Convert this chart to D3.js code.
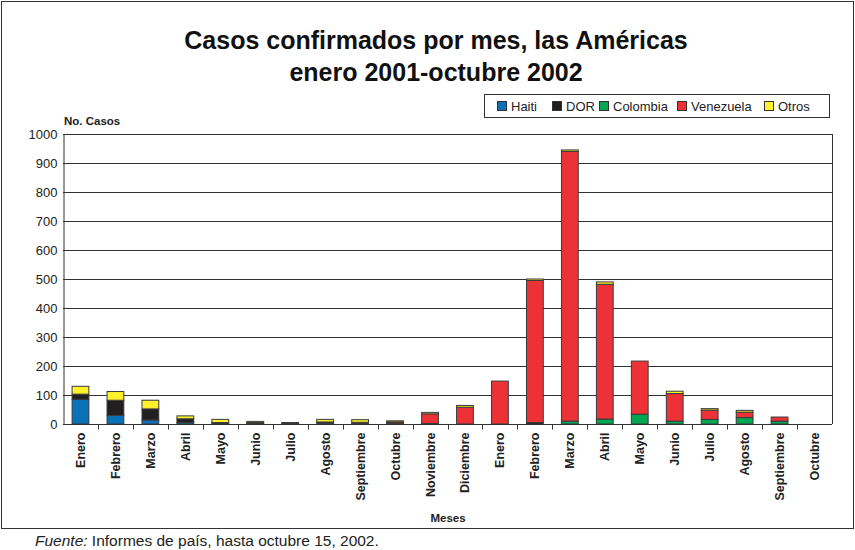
<!DOCTYPE html>
<html>
<head>
<meta charset="utf-8">
<script src="https://cdn.jsdelivr.net/npm/d3@7"></script>
<style>
  body { margin: 0; background: #fff; }
  svg { display: block; font-family: "Liberation Sans", Arial, sans-serif; }
</style>
</head>
<body>
<svg id="chart" width="855" height="550"></svg>
<script>
const months = ["Enero","Febrero","Marzo","Abril","Mayo","Junio","Julio","Agosto","Septiembre","Octubre","Noviembre","Diciembre",
                "Enero","Febrero","Marzo","Abril","Mayo","Junio","Julio","Agosto","Septiembre","Octubre"];
const seriesNames = ["Haiti","DOR","Colombia","Venezuela","Otros"];
const seriesColors = ["#0a70b8","#231f20","#00a651","#ed3237","#fff22d"];
const haiti     = [85,30,14,5,1,2,3,4,0,0,0,0, 0,0,0,0,0,0,0,0,0,0];
const dor       = [18,52,38,13,4,3,2,3,3,3,2,0, 0,5,0,0,0,0,0,0,0,0];
const colombia  = [0,0,0,0,0,0,0,0,0,0,0,0, 0,0,10,17,34,10,16,22,10,0];
const venezuela = [0,0,0,0,0,0,0,0,3,4,33,58, 148,490,930,465,183,95,32,19,14,0];
const otros     = [27,30,30,10,11,4,0,9,9,4,5,6, 0,5,5,8,0,8,5,6,0,0];
const yTicks = [0,100,200,300,400,500,600,700,800,900,1000];

const svg = d3.select("#chart");
const W = 855, H = 550;
const m = {left: 63, right: 832, top: 134, bottom: 424};

// outer frame
svg.append("rect").attr("x",1.5).attr("y",1.5).attr("width",W-3).attr("height",527)
  .attr("fill","none").attr("stroke","#333").attr("stroke-width",1);

// title
svg.append("text").attr("x",436).attr("y",49).attr("text-anchor","middle")
  .attr("font-size",25).attr("font-weight","bold").attr("fill","#111")
  .text("Casos confirmados por mes, las Américas");
svg.append("text").attr("x",436).attr("y",81).attr("text-anchor","middle")
  .attr("font-size",25).attr("font-weight","bold").attr("fill","#111")
  .text("enero 2001-octubre 2002");

const table = months.map((mo,i) => ({i, month: mo, Haiti: haiti[i], DOR: dor[i], Colombia: colombia[i], Venezuela: venezuela[i], Otros: otros[i]}));
const stacked = d3.stack().keys(seriesNames)(table);

const x = d3.scaleBand().domain(d3.range(months.length)).range([m.left, m.right]).paddingInner(0.52).paddingOuter(0.26);
const xb = d3.scaleBand().domain(d3.range(months.length)).range([m.left, m.right]);
const y = d3.scaleLinear().domain([0,1000]).range([m.bottom, m.top]);

// gridlines
svg.append("g").selectAll("line").data(yTicks.filter(d=>d>0)).join("line")
  .attr("x1",m.left).attr("x2",m.right)
  .attr("y1",d=>Math.round(y(d))+0.5).attr("y2",d=>Math.round(y(d))+0.5)
  .attr("stroke","#333").attr("stroke-width",1);
// right border
svg.append("line").attr("x1",m.right+0.5).attr("x2",m.right+0.5).attr("y1",m.top).attr("y2",m.bottom)
  .attr("stroke","#333");

// y axis
const yAxis = svg.append("g").attr("transform",`translate(${m.left+0.5},0)`)
  .call(d3.axisLeft(y).tickValues(yTicks).tickFormat(d3.format("d")).tickSize(0).tickPadding(6));
yAxis.select(".domain").attr("stroke","#333");
yAxis.selectAll("text").attr("font-size",13).attr("fill","#222").attr("font-family","Liberation Sans, Arial, sans-serif");

svg.append("text").attr("x",m.left+1).attr("y",125).attr("font-size",11.5).attr("font-weight","bold").attr("fill","#222").text("No. Casos");

// bars
svg.append("g").selectAll("g").data(stacked).join("g")
  .attr("fill",(d,k)=>seriesColors[k])
  .selectAll("rect").data(d=>d.filter(s=>s[1]-s[0]>0)).join("rect")
  .attr("x",d=>x(d.data.i)).attr("width",x.bandwidth())
  .attr("y",d=>y(d[1])).attr("height",d=>y(d[0])-y(d[1]))
  .attr("stroke","#3a3a3a").attr("stroke-width",1);

// x axis
const xAxis = svg.append("g").attr("transform",`translate(0,${m.bottom+0.5})`);
xAxis.append("line").attr("x1",m.left).attr("x2",m.right).attr("stroke","#333");
xAxis.selectAll("line.tk").data(d3.range(1,months.length)).join("line").attr("class","tk")
  .attr("x1",d=>Math.round(xb(d))+0.5).attr("x2",d=>Math.round(xb(d))+0.5).attr("y1",0).attr("y2",5)
  .attr("stroke","#333");
xAxis.selectAll("text").data(months).join("text")
  .attr("transform",(d,i)=>`translate(${xb(i)+xb.bandwidth()/2+4.5},8) rotate(-90)`)
  .attr("text-anchor","end").attr("font-size",12.5).attr("font-weight","bold").attr("fill","#222")
  .text(d=>d);

svg.append("text").attr("x",448).attr("y",522).attr("text-anchor","middle")
  .attr("font-size",11.5).attr("font-weight","bold").attr("fill","#222").text("Meses");

// legend
const lg = svg.append("g");
lg.append("rect").attr("x",484.5).attr("y",94.5).attr("width",345).attr("height",23)
  .attr("fill","#fff").attr("stroke","#333");
const legX = [497, 552, 599, 677, 764];
seriesNames.forEach((n,k)=>{
  lg.append("rect").attr("x",legX[k]+0.5).attr("y",101.5).attr("width",9).attr("height",9)
    .attr("fill",seriesColors[k]).attr("stroke","#333");
  lg.append("text").attr("x",legX[k]+14).attr("y",110.5).attr("font-size",13).attr("fill","#222").text(n);
});

// source
const src = svg.append("text").attr("x",35).attr("y",546).attr("font-size",15.5).attr("fill","#222");
src.append("tspan").attr("font-style","italic").text("Fuente:");
src.append("tspan").text(" Informes de país, hasta octubre 15, 2002.");
</script>
</body>
</html>
